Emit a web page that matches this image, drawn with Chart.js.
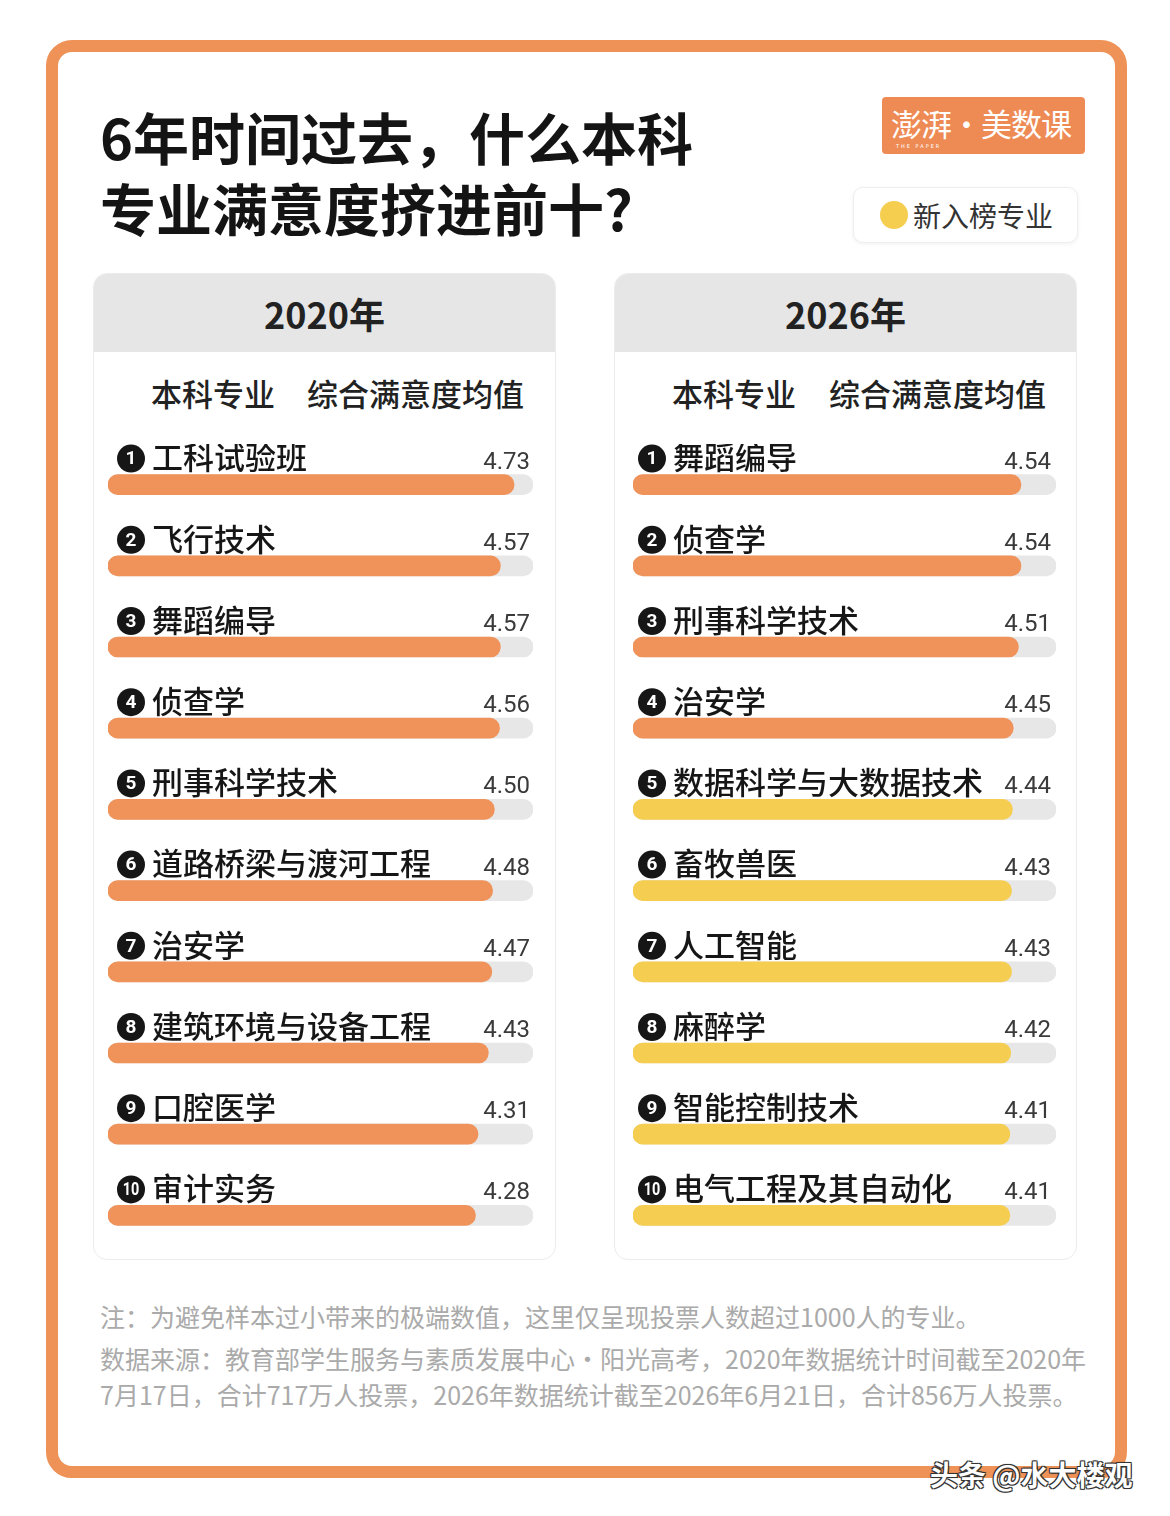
<!DOCTYPE html>
<html>
<head>
<meta charset="utf-8">
<script src="https://cdn.jsdelivr.net/npm/chart.js@4/dist/chart.umd.min.js"></script>
<style>
  html,body{margin:0;padding:0;background:#fff;}
  body{width:1170px;height:1516px;position:relative;overflow:hidden;font-family:"Noto Sans CJK SC","Noto Sans",sans-serif;}
  .frame{position:absolute;left:46px;top:40px;width:1057px;height:1414px;border:12px solid #EE9257;border-radius:26px;background:#fff;}
  .title{position:absolute;left:100px;top:100px;font-size:56px;line-height:71px;font-weight:700;color:#141414;white-space:nowrap;}
  .logo{position:absolute;left:882px;top:97px;width:203px;height:57px;background:#EE8B55;border-radius:4px;color:#fff;overflow:hidden;}
  .logo .t{position:absolute;left:9px;top:5px;font-size:31px;line-height:42px;letter-spacing:-1px;white-space:nowrap;}
  .logo .s{position:absolute;left:14px;top:46px;font-size:5px;letter-spacing:2px;font-family:"DejaVu Sans";}
  .legend{position:absolute;left:853px;top:187px;width:223px;height:54px;border:1px solid #eeeeee;border-radius:10px;box-shadow:0 1px 4px rgba(0,0,0,0.06);background:#fff;}
  .legend .dot{position:absolute;left:26px;top:13px;width:28px;height:28px;border-radius:50%;background:#F5CD4F;}
  .legend .lt{position:absolute;left:59px;top:8px;font-size:28px;line-height:38px;color:#333;white-space:nowrap;}
  .panel{position:absolute;top:273px;width:461px;height:985px;border:1px solid #ececec;border-radius:14px;background:#fff;overflow:hidden;}
  .panel .hd{position:absolute;left:0;top:0;width:100%;height:78px;background:#E6E6E6;text-align:center;font-size:36px;line-height:78px;font-weight:700;color:#222;}
  .panel .sub{position:absolute;top:98px;font-size:31px;line-height:42px;color:#222;font-weight:500;white-space:nowrap;}
  .panel canvas{position:absolute;left:0;top:170px;}
  .foot{position:absolute;left:100px;color:#aaaaaa;font-size:25px;white-space:nowrap;}
  .wm{position:absolute;left:930px;top:1455px;font-size:28px;line-height:38px;color:#fff;white-space:nowrap;font-weight:700;
      text-shadow:-1px -1px 0 #333,1px -1px 0 #333,-1px 1px 0 #333,1px 1px 0 #333,0 0 2px #000;}
</style>
</head>
<body>
<div class="frame"></div>
<div class="title">6年时间过去，什么本科<br>专业满意度挤进前十?</div>
<div class="logo"><div class="t">澎湃·美数课</div><div class="s">THE PAPER</div></div>
<div class="legend"><div class="dot"></div><div class="lt">新入榜专业</div></div>

<div class="panel" style="left:93px;">
  <div class="hd">2020年</div>
  <div class="sub" style="left:57px;">本科专业</div>
  <div class="sub" style="left:213px;">综合满意度均值</div>
  <canvas id="c2020" width="461" height="812"></canvas>
</div>
<div class="panel" style="left:614px;">
  <div class="hd">2026年</div>
  <div class="sub" style="left:57px;">本科专业</div>
  <div class="sub" style="left:214px;">综合满意度均值</div>
  <canvas id="c2026" width="461" height="812"></canvas>
</div>

<div class="foot" style="top:1298px;line-height:36px;">注：为避免样本过小带来的极端数值，这里仅呈现投票人数超过1000人的专业。</div>
<div class="foot" style="top:1340px;line-height:36px;">数据来源：教育部学生服务与素质发展中心·阳光高考，2020年数据统计时间截至2020年<br>7月17日，合计717万人投票，2026年数据统计截至2026年6月21日，合计856万人投票。</div>
<div class="wm">头条 @水大楼观</div>

<script>
// ---- data ----
const majors2020 = ['工科试验班','飞行技术','舞蹈编导','侦查学','刑事科学技术','道路桥梁与渡河工程','治安学','建筑环境与设备工程','口腔医学','审计实务'];
const scores2020 = [4.73,4.57,4.57,4.56,4.50,4.48,4.47,4.43,4.31,4.28];
const isNew2020  = [0,0,0,0,0,0,0,0,0,0];

const majors2026 = ['舞蹈编导','侦查学','刑事科学技术','治安学','数据科学与大数据技术','畜牧兽医','人工智能','麻醉学','智能控制技术','电气工程及其自动化'];
const scores2026 = [4.54,4.54,4.51,4.45,4.44,4.43,4.43,4.42,4.41,4.41];
const isNew2026  = [0,0,0,0,1,1,1,1,1,1];

const scaleMax = 4.95;

// ---- styles ----
const ORANGE = '#F0935A', YELLOW = '#F5CD50', TRACK = '#E7E7E7';

const labelPlugin = {
  id: 'rowLabels',
  afterDatasetsDraw(chart) {
    const ctx = chart.ctx;
    const ys = chart.scales.y;
    const labels = chart.data.labels;
    const vals = chart.data.datasets[0].data;
    ctx.save();
    labels.forEach((lab, i) => {
      const yc = ys.getPixelForValue(i);
      const ly = yc - 27;
      // circled number
      ctx.fillStyle = '#161616';
      ctx.beginPath();
      ctx.arc(37, ly + 1, 14, 0, Math.PI * 2);
      ctx.fill();
      ctx.fillStyle = '#fff';
      ctx.textAlign = 'center';
      ctx.textBaseline = 'middle';
      const num = String(i + 1);
      if (num.length > 1) {
        ctx.save();
        ctx.translate(37, ly + 2);
        ctx.scale(0.8, 1);
        ctx.font = 'bold 18px Roboto, "DejaVu Sans", sans-serif';
        ctx.fillText(num, 0, 0);
        ctx.restore();
      } else {
        ctx.font = 'bold 19px Roboto, "DejaVu Sans", sans-serif';
        ctx.fillText(num, 37, ly + 2);
      }
      // major name
      ctx.fillStyle = '#161616';
      ctx.textAlign = 'left';
      ctx.textBaseline = 'middle';
      ctx.font = '500 31px "Noto Sans CJK SC", sans-serif';
      ctx.fillText(lab, 58, ly);
      // value
      ctx.fillStyle = '#3a3a3a';
      ctx.textAlign = 'right';
      ctx.textBaseline = 'alphabetic';
      ctx.font = '24px Roboto, "Noto Sans", sans-serif';
      ctx.fillText(vals[i].toFixed(2), 436, yc - 16);
    });
    ctx.restore();
  }
};

function makeChart(id, labels, values, flags, padL, padR) {
  new Chart(document.getElementById(id), {
    type: 'bar',
    data: {
      labels: labels,
      datasets: [
        {
          data: values,
          backgroundColor: flags.map(f => f ? YELLOW : ORANGE),
          barThickness: 20,
          borderRadius: 10,
          borderSkipped: false,
          grouped: false,
          order: 1
        },
        {
          data: labels.map(() => scaleMax),
          backgroundColor: TRACK,
          barThickness: 20,
          borderRadius: 10,
          borderSkipped: false,
          grouped: false,
          order: 2
        }
      ]
    },
    options: {
      indexAxis: 'y',
      responsive: false,
      animation: false,
      devicePixelRatio: 1,
      layout: { padding: { left: padL, right: padR, top: 0, bottom: 0 } },
      scales: {
        x: { display: false, min: 0, max: scaleMax },
        y: { display: false }
      },
      plugins: { legend: { display: false }, tooltip: { enabled: false } }
    },
    plugins: [labelPlugin]
  });
}

makeChart('c2020', majors2020, scores2020, isNew2020, 14, 22);
makeChart('c2026', majors2026, scores2026, isNew2026, 18, 20);
</script>
</body>
</html>
